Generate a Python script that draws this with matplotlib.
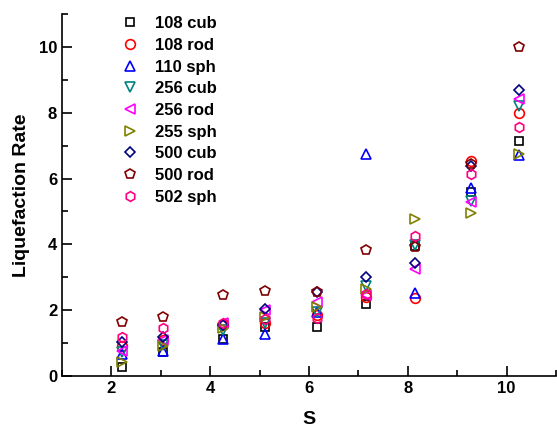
import matplotlib.pyplot as plt
from matplotlib.ticker import MultipleLocator

plt.rcParams['font.family'] = ['Liberation Sans', 'DejaVu Sans']
plt.rcParams['font.weight'] = 'bold'

# S values (same for every series)
s_vals = [2.22, 3.05, 4.26, 5.1, 6.17, 7.15, 8.14, 9.27, 10.26]

labels = ['108 cub', '108 rod', '110 sph', '256 cub', '256 rod',
          '255 sph', '500 cub', '500 rod', '502 sph']
cub108 = [0.27, 0.72, 1.12, 1.5, 1.49, 2.2, 3.95, 5.6, 7.14]
rod108 = [0.9, 1.1, 1.55, 1.6, 1.85, 2.4, 2.36, 6.52, 7.99]
sph110 = [0.67, 0.75, 1.12, 1.28, 1.95, 6.75, 2.52, 5.71, 6.72]
cub256 = [0.72, 0.95, 1.4, 1.6, 1.93, 2.72, 3.98, 5.32, 8.2]
rod256 = [0.76, 1.1, 1.6, 2.0, 2.25, 2.45, 3.24, 5.28, 8.43]
sph255 = [0.44, 0.91, 1.45, 1.8, 2.1, 2.65, 4.77, 4.94, 6.75]
cub500 = [1.03, 1.18, 1.55, 2.03, 2.54, 3.0, 3.43, 6.38, 8.69]
rod500 = [1.63, 1.79, 2.46, 2.58, 2.54, 3.83, 3.93, 6.44, 9.99]
sph502 = [1.18, 1.47, 1.61, 1.73, 1.76, 2.5, 4.26, 6.14, 7.58]

series = [cub108, rod108, sph110, cub256, rod256, sph255, cub500, rod500, sph502]
markers = ['s', 'o', '^', 'v', '<', '>', 'D', 'p', 'h']
colors = ['black', 'red', 'blue', '#008080', 'magenta', '#808000',
          '#000080', '#800000', '#FF0080']
sizes = [6, 7, 7, 7, 7, 7, 5.5, 7, 7]

fig = plt.figure(figsize=(5.57, 4.29), dpi=100)
ax = fig.add_axes([0.1113, 0.1235, 0.887, 0.844])

for y, m, c, ms, lab in zip(series, markers, colors, sizes, labels):
    ax.plot(s_vals, y, linestyle='none', marker=m, markersize=ms,
            markerfacecolor='none', markeredgecolor=c, markeredgewidth=1.2,
            label=lab)

ax.set_xlim(1, 11)
ax.set_ylim(0, 11)
ax.xaxis.set_major_locator(MultipleLocator(2))
ax.xaxis.set_minor_locator(MultipleLocator(1))
ax.yaxis.set_major_locator(MultipleLocator(2))
ax.yaxis.set_minor_locator(MultipleLocator(1))
ax.tick_params(which='both', direction='in', width=1.2, labelsize=12)
ax.tick_params(which='major', length=7)
ax.tick_params(which='minor', length=4)
ax.spines['top'].set_visible(False)
ax.spines['right'].set_visible(False)
for sp in ['left', 'bottom']:
    ax.spines[sp].set_linewidth(1.2)

ax.set_xlabel('S', fontsize=14, fontweight='bold', labelpad=11)
ax.set_ylabel('Liquefaction Rate', fontsize=14, fontweight='bold', labelpad=6)

leg = ax.legend(loc='upper left', bbox_to_anchor=(0.087, 1.035), frameon=False,
                prop={'size': 12, 'weight': 'bold'}, labelspacing=0.4,
                handletextpad=0.9, handlelength=1.2)

fig.savefig('out.png', dpi=100)
